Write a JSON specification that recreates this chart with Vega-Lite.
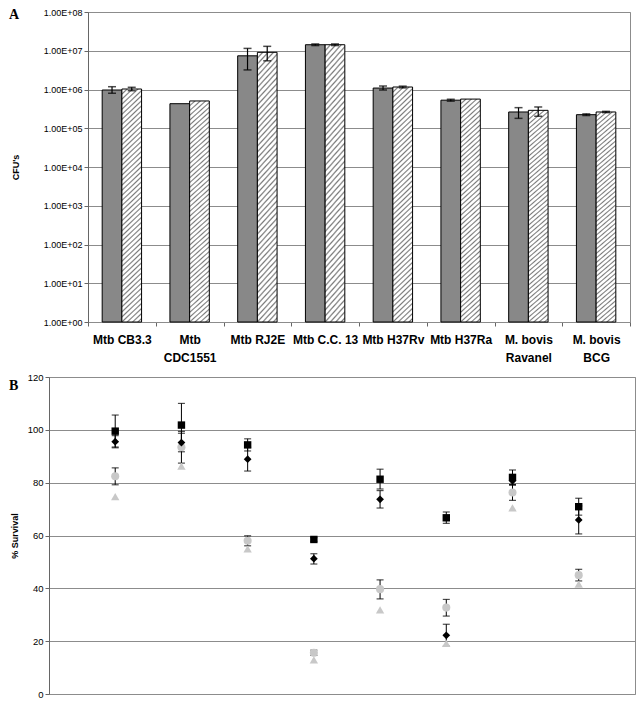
{
  "$schema": "https://vega.github.io/schema/vega-lite/v6.json",
  "background": "white",
  "padding": {"left": 8, "top": 7, "right": 5, "bottom": 2},
  "spacing": 7,
  "config": {
    "font": "Liberation Sans",
    "view": {"stroke": "#8c8c8c", "strokeWidth": 1},
    "axis": {"labelColor": "#000", "titleColor": "#000", "gridColor": "#8c8c8c", "domainColor": "#666", "tickColor": "#666", "labelFont": "Liberation Sans", "titleFont": "Liberation Sans"}
  },
  "vconcat": [
    {
      "bounds": "flush",
      "spacing": 38,
      "hconcat": [
        {"width": 1, "height": 1, "view": {"stroke": null}, "data": {"values": [{"k": 0}]}, "mark": {"type": "point", "opacity": 0}, "encoding": {}},
        {
          "width": 542,
          "height": 310,
          "title": {"text": "A", "anchor": "start", "frame": "group", "font": "Liberation Serif", "fontSize": 14, "fontWeight": "bold", "color": "#000", "dx": -79, "dy": 14, "offset": 0},
          "data": {"values": [
            {"strain": "Mtb CB3.3", "g": "a", "v": 970000, "lo": 800000, "hi": 1180000},
            {"strain": "Mtb CB3.3", "g": "b", "v": 1030000, "lo": 930000, "hi": 1140000},
            {"strain": "Mtb CDC1551", "g": "a", "v": 430000, "lo": null, "hi": null},
            {"strain": "Mtb CDC1551", "g": "b", "v": 506000, "lo": null, "hi": null},
            {"strain": "Mtb RJ2E", "g": "a", "v": 7400000, "lo": 3200000, "hi": 11500000},
            {"strain": "Mtb RJ2E", "g": "b", "v": 9100000, "lo": 5500000, "hi": 13000000},
            {"strain": "Mtb C.C. 13", "g": "a", "v": 14300000, "lo": 13600000, "hi": 15000000},
            {"strain": "Mtb C.C. 13", "g": "b", "v": 14300000, "lo": 13600000, "hi": 15000000},
            {"strain": "Mtb H37Rv", "g": "a", "v": 1090000, "lo": 970000, "hi": 1230000},
            {"strain": "Mtb H37Rv", "g": "b", "v": 1160000, "lo": 1100000, "hi": 1220000},
            {"strain": "Mtb H37Ra", "g": "a", "v": 530000, "lo": 500000, "hi": 560000},
            {"strain": "Mtb H37Ra", "g": "b", "v": 566000, "lo": null, "hi": null},
            {"strain": "M. bovis Ravanel", "g": "a", "v": 263000, "lo": 180000, "hi": 340000},
            {"strain": "M. bovis Ravanel", "g": "b", "v": 290000, "lo": 204000, "hi": 354000},
            {"strain": "M. bovis BCG", "g": "a", "v": 224000, "lo": 213000, "hi": 235000},
            {"strain": "M. bovis BCG", "g": "b", "v": 263000, "lo": 253000, "hi": 273000}
          ]},
          "encoding": {
            "x": {"field": "strain", "type": "nominal", "sort": null, "title": null,
              "scale": {"paddingInner": 0, "paddingOuter": 0},
              "axis": {"labelAngle": 0, "labelFontWeight": "bold", "labelFontSize": 12, "tickBand": "extent", "tickSize": 4, "labelPadding": 8, "labelLineHeight": 18, "labelBaseline": "top", "domainColor": "#8c8c8c",
                "labelExpr": "datum.label == 'Mtb CDC1551' ? ['Mtb', 'CDC1551'] : datum.label == 'M. bovis Ravanel' ? ['M. bovis', 'Ravanel'] : datum.label == 'M. bovis BCG' ? ['M. bovis', 'BCG'] : datum.label"}},
            "xOffset": {"field": "g", "type": "nominal", "scale": {"domain": ["a", "b"], "paddingInner": 0, "paddingOuter": 0.72}},
            "y": {"field": "v", "type": "quantitative", "title": "CFU's",
              "scale": {"type": "log", "domain": [1, 100000000], "nice": false},
              "axis": {"values": [1, 10, 100, 1000, 10000, 100000, 1000000, 10000000, 100000000], "labelExpr": "replace(format(datum.value, '.2e'), 'e+', 'E+0')", "labelFontSize": 9, "tickSize": 4, "labelPadding": 2, "grid": true, "titleFontSize": 9, "titleFontWeight": "bold", "titlePadding": 23}}
          },
          "layer": [
            {
              "transform": [{"filter": "datum.g == 'a'"}],
              "mark": {"type": "bar", "stroke": "#000", "strokeWidth": 1, "fill": "#888888"},
              "encoding": {"y2": {"datum": 1}}
            },
            {
              "transform": [{"filter": "datum.g == 'b'"}],
              "mark": {"type": "bar", "stroke": "#000", "strokeWidth": 1,
                "fill": {"gradient": "linear", "x1": 0, "y1": 0, "x2": 0.0864, "y2": 1.08, "stops": [
                  {"offset": 0, "color": "#7a7a7a"}, {"offset": 0.006, "color": "#ffffff"}, {"offset": 0.014, "color": "#ffffff"},
                  {"offset": 0.02, "color": "#7a7a7a"}, {"offset": 0.026, "color": "#ffffff"}, {"offset": 0.034, "color": "#ffffff"},
                  {"offset": 0.04, "color": "#7a7a7a"}, {"offset": 0.046, "color": "#ffffff"}, {"offset": 0.054, "color": "#ffffff"},
                  {"offset": 0.06, "color": "#7a7a7a"}, {"offset": 0.066, "color": "#ffffff"}, {"offset": 0.074, "color": "#ffffff"},
                  {"offset": 0.08, "color": "#7a7a7a"}, {"offset": 0.086, "color": "#ffffff"}, {"offset": 0.094, "color": "#ffffff"},
                  {"offset": 0.1, "color": "#7a7a7a"}, {"offset": 0.106, "color": "#ffffff"}, {"offset": 0.114, "color": "#ffffff"},
                  {"offset": 0.12, "color": "#7a7a7a"}, {"offset": 0.126, "color": "#ffffff"}, {"offset": 0.134, "color": "#ffffff"},
                  {"offset": 0.14, "color": "#7a7a7a"}, {"offset": 0.146, "color": "#ffffff"}, {"offset": 0.154, "color": "#ffffff"},
                  {"offset": 0.16, "color": "#7a7a7a"}, {"offset": 0.166, "color": "#ffffff"}, {"offset": 0.174, "color": "#ffffff"},
                  {"offset": 0.18, "color": "#7a7a7a"}, {"offset": 0.186, "color": "#ffffff"}, {"offset": 0.194, "color": "#ffffff"},
                  {"offset": 0.2, "color": "#7a7a7a"}, {"offset": 0.206, "color": "#ffffff"}, {"offset": 0.214, "color": "#ffffff"},
                  {"offset": 0.22, "color": "#7a7a7a"}, {"offset": 0.226, "color": "#ffffff"}, {"offset": 0.234, "color": "#ffffff"},
                  {"offset": 0.24, "color": "#7a7a7a"}, {"offset": 0.246, "color": "#ffffff"}, {"offset": 0.254, "color": "#ffffff"},
                  {"offset": 0.26, "color": "#7a7a7a"}, {"offset": 0.266, "color": "#ffffff"}, {"offset": 0.274, "color": "#ffffff"},
                  {"offset": 0.28, "color": "#7a7a7a"}, {"offset": 0.286, "color": "#ffffff"}, {"offset": 0.294, "color": "#ffffff"},
                  {"offset": 0.3, "color": "#7a7a7a"}, {"offset": 0.306, "color": "#ffffff"}, {"offset": 0.314, "color": "#ffffff"},
                  {"offset": 0.32, "color": "#7a7a7a"}, {"offset": 0.326, "color": "#ffffff"}, {"offset": 0.334, "color": "#ffffff"},
                  {"offset": 0.34, "color": "#7a7a7a"}, {"offset": 0.346, "color": "#ffffff"}, {"offset": 0.354, "color": "#ffffff"},
                  {"offset": 0.36, "color": "#7a7a7a"}, {"offset": 0.366, "color": "#ffffff"}, {"offset": 0.374, "color": "#ffffff"},
                  {"offset": 0.38, "color": "#7a7a7a"}, {"offset": 0.386, "color": "#ffffff"}, {"offset": 0.394, "color": "#ffffff"},
                  {"offset": 0.4, "color": "#7a7a7a"}, {"offset": 0.406, "color": "#ffffff"}, {"offset": 0.414, "color": "#ffffff"},
                  {"offset": 0.42, "color": "#7a7a7a"}, {"offset": 0.426, "color": "#ffffff"}, {"offset": 0.434, "color": "#ffffff"},
                  {"offset": 0.44, "color": "#7a7a7a"}, {"offset": 0.446, "color": "#ffffff"}, {"offset": 0.454, "color": "#ffffff"},
                  {"offset": 0.46, "color": "#7a7a7a"}, {"offset": 0.466, "color": "#ffffff"}, {"offset": 0.474, "color": "#ffffff"},
                  {"offset": 0.48, "color": "#7a7a7a"}, {"offset": 0.486, "color": "#ffffff"}, {"offset": 0.494, "color": "#ffffff"},
                  {"offset": 0.5, "color": "#7a7a7a"}, {"offset": 0.506, "color": "#ffffff"}, {"offset": 0.514, "color": "#ffffff"},
                  {"offset": 0.52, "color": "#7a7a7a"}, {"offset": 0.526, "color": "#ffffff"}, {"offset": 0.534, "color": "#ffffff"},
                  {"offset": 0.54, "color": "#7a7a7a"}, {"offset": 0.546, "color": "#ffffff"}, {"offset": 0.554, "color": "#ffffff"},
                  {"offset": 0.56, "color": "#7a7a7a"}, {"offset": 0.566, "color": "#ffffff"}, {"offset": 0.574, "color": "#ffffff"},
                  {"offset": 0.58, "color": "#7a7a7a"}, {"offset": 0.586, "color": "#ffffff"}, {"offset": 0.594, "color": "#ffffff"},
                  {"offset": 0.6, "color": "#7a7a7a"}, {"offset": 0.606, "color": "#ffffff"}, {"offset": 0.614, "color": "#ffffff"},
                  {"offset": 0.62, "color": "#7a7a7a"}, {"offset": 0.626, "color": "#ffffff"}, {"offset": 0.634, "color": "#ffffff"},
                  {"offset": 0.64, "color": "#7a7a7a"}, {"offset": 0.646, "color": "#ffffff"}, {"offset": 0.654, "color": "#ffffff"},
                  {"offset": 0.66, "color": "#7a7a7a"}, {"offset": 0.666, "color": "#ffffff"}, {"offset": 0.674, "color": "#ffffff"},
                  {"offset": 0.68, "color": "#7a7a7a"}, {"offset": 0.686, "color": "#ffffff"}, {"offset": 0.694, "color": "#ffffff"},
                  {"offset": 0.7, "color": "#7a7a7a"}, {"offset": 0.706, "color": "#ffffff"}, {"offset": 0.714, "color": "#ffffff"},
                  {"offset": 0.72, "color": "#7a7a7a"}, {"offset": 0.726, "color": "#ffffff"}, {"offset": 0.734, "color": "#ffffff"},
                  {"offset": 0.74, "color": "#7a7a7a"}, {"offset": 0.746, "color": "#ffffff"}, {"offset": 0.754, "color": "#ffffff"},
                  {"offset": 0.76, "color": "#7a7a7a"}, {"offset": 0.766, "color": "#ffffff"}, {"offset": 0.774, "color": "#ffffff"},
                  {"offset": 0.78, "color": "#7a7a7a"}, {"offset": 0.786, "color": "#ffffff"}, {"offset": 0.794, "color": "#ffffff"},
                  {"offset": 0.8, "color": "#7a7a7a"}, {"offset": 0.806, "color": "#ffffff"}, {"offset": 0.814, "color": "#ffffff"},
                  {"offset": 0.82, "color": "#7a7a7a"}, {"offset": 0.826, "color": "#ffffff"}, {"offset": 0.834, "color": "#ffffff"},
                  {"offset": 0.84, "color": "#7a7a7a"}, {"offset": 0.846, "color": "#ffffff"}, {"offset": 0.854, "color": "#ffffff"},
                  {"offset": 0.86, "color": "#7a7a7a"}, {"offset": 0.866, "color": "#ffffff"}, {"offset": 0.874, "color": "#ffffff"},
                  {"offset": 0.88, "color": "#7a7a7a"}, {"offset": 0.886, "color": "#ffffff"}, {"offset": 0.894, "color": "#ffffff"},
                  {"offset": 0.9, "color": "#7a7a7a"}, {"offset": 0.906, "color": "#ffffff"}, {"offset": 0.914, "color": "#ffffff"},
                  {"offset": 0.92, "color": "#7a7a7a"}, {"offset": 0.926, "color": "#ffffff"}, {"offset": 0.934, "color": "#ffffff"},
                  {"offset": 0.94, "color": "#7a7a7a"}, {"offset": 0.946, "color": "#ffffff"}, {"offset": 0.954, "color": "#ffffff"},
                  {"offset": 0.96, "color": "#7a7a7a"}, {"offset": 0.966, "color": "#ffffff"}, {"offset": 0.974, "color": "#ffffff"},
                  {"offset": 0.98, "color": "#7a7a7a"}, {"offset": 0.986, "color": "#ffffff"}, {"offset": 1, "color": "#ffffff"}
                ]}},
              "encoding": {"y2": {"datum": 1}}
            },
            {
              "transform": [{"filter": "datum.lo != null"}],
              "mark": {"type": "rule", "color": "#000", "strokeWidth": 1.2},
              "encoding": {"y": {"field": "lo", "type": "quantitative", "title": "CFU's"}, "y2": {"field": "hi"}}
            },
            {
              "transform": [{"filter": "datum.lo != null"}],
              "mark": {"type": "tick", "orient": "horizontal", "color": "#000", "size": 8, "thickness": 1.5},
              "encoding": {"y": {"field": "lo", "type": "quantitative", "title": "CFU's"}}
            },
            {
              "transform": [{"filter": "datum.lo != null"}],
              "mark": {"type": "tick", "orient": "horizontal", "color": "#000", "size": 8, "thickness": 1.5},
              "encoding": {"y": {"field": "hi", "type": "quantitative", "title": "CFU's"}}
            }
          ]
        }
      ]
    },
    {
      "width": 586,
      "height": 317,
      "title": {"text": "B", "anchor": "start", "frame": "group", "font": "Liberation Serif", "fontSize": 14, "fontWeight": "bold", "color": "#000", "dx": -40, "dy": 21, "offset": 0},
      "data": {"values": [
        {"pos": 1, "s": "tri", "v": 74.7},
        {"pos": 2, "s": "tri", "v": 86.3},
        {"pos": 3, "s": "tri", "v": 54.9},
        {"pos": 4, "s": "tri", "v": 12.9},
        {"pos": 5, "s": "tri", "v": 31.8},
        {"pos": 6, "s": "tri", "v": 19.2},
        {"pos": 7, "s": "tri", "v": 70.5},
        {"pos": 8, "s": "tri", "v": 41.6},
        {"pos": 1, "s": "circ", "v": 82.4, "lo": 79.2, "hi": 85.6},
        {"pos": 2, "s": "circ", "v": 93.4, "lo": 87.4, "hi": 99.4},
        {"pos": 3, "s": "circ", "v": 58.0, "lo": 56.1, "hi": 59.9},
        {"pos": 4, "s": "circ", "v": 15.6, "lo": 14.6, "hi": 16.6},
        {"pos": 5, "s": "circ", "v": 39.7, "lo": 36.0, "hi": 43.2},
        {"pos": 6, "s": "circ", "v": 32.7, "lo": 29.5, "hi": 35.8},
        {"pos": 7, "s": "circ", "v": 76.3, "lo": 73.3, "hi": 79.3},
        {"pos": 8, "s": "circ", "v": 45.0, "lo": 42.8, "hi": 47.2},
        {"pos": 1, "s": "dia", "v": 95.5, "lo": 93.2, "hi": 97.8},
        {"pos": 2, "s": "dia", "v": 95.2, "lo": 91.7, "hi": 98.7},
        {"pos": 3, "s": "dia", "v": 88.9, "lo": 84.4, "hi": 93.4},
        {"pos": 4, "s": "dia", "v": 51.2, "lo": 49.2, "hi": 53.1},
        {"pos": 5, "s": "dia", "v": 73.7, "lo": 70.4, "hi": 77.0},
        {"pos": 6, "s": "dia", "v": 22.2, "lo": 18.1, "hi": 26.4},
        {"pos": 7, "s": "dia", "v": 80.7, "lo": 79.1, "hi": 82.3},
        {"pos": 8, "s": "dia", "v": 65.9, "lo": 60.6, "hi": 71.2},
        {"pos": 1, "s": "sq", "v": 99.5, "lo": 93.5, "hi": 105.6},
        {"pos": 2, "s": "sq", "v": 101.8, "lo": 93.6, "hi": 110.0},
        {"pos": 3, "s": "sq", "v": 94.3, "lo": 92.0, "hi": 96.6},
        {"pos": 4, "s": "sq", "v": 58.5, "lo": 57.8, "hi": 59.2},
        {"pos": 5, "s": "sq", "v": 81.3, "lo": 77.6, "hi": 85.1},
        {"pos": 6, "s": "sq", "v": 66.7, "lo": 64.6, "hi": 68.9},
        {"pos": 7, "s": "sq", "v": 82.0, "lo": 79.2, "hi": 84.8},
        {"pos": 8, "s": "sq", "v": 70.9, "lo": 67.7, "hi": 74.1}
      ]},
      "encoding": {
        "x": {"field": "pos", "type": "quantitative", "scale": {"domain": [0, 8.85], "nice": false, "zero": false}, "axis": null}
      },
      "layer": [
        {
          "transform": [{"filter": "datum.lo != null"}],
          "mark": {"type": "rule", "color": "#000", "strokeWidth": 1},
          "encoding": {"y": {"field": "lo", "type": "quantitative", "title": "% Survival"}, "y2": {"field": "hi"}}
        },
        {
          "transform": [{"filter": "datum.lo != null"}],
          "mark": {"type": "tick", "orient": "horizontal", "color": "#000", "size": 7, "thickness": 1.2},
          "encoding": {"y": {"field": "lo", "type": "quantitative", "title": "% Survival"}}
        },
        {
          "transform": [{"filter": "datum.lo != null"}],
          "mark": {"type": "tick", "orient": "horizontal", "color": "#000", "size": 7, "thickness": 1.2},
          "encoding": {"y": {"field": "hi", "type": "quantitative", "title": "% Survival"}}
        },
        {
          "mark": {"type": "point", "filled": true, "opacity": 1, "strokeWidth": 0},
          "encoding": {
            "y": {"field": "v", "type": "quantitative", "title": "% Survival",
              "scale": {"domain": [0, 120], "nice": false},
              "axis": {"values": [0, 20, 40, 60, 80, 100, 120], "grid": true, "tickSize": 4, "labelFontSize": 9.5, "labelPadding": 2, "titleFontSize": 9, "titleFontWeight": "bold", "titlePadding": 8}},
            "shape": {"field": "s", "type": "nominal", "scale": {"domain": ["sq", "dia", "circ", "tri"], "range": ["square", "diamond", "circle", "triangle-up"]}, "legend": null},
            "color": {"field": "s", "type": "nominal", "scale": {"domain": ["sq", "dia", "circ", "tri"], "range": ["#000000", "#000000", "#c8c8c8", "#c8c8c8"]}, "legend": null},
            "size": {"field": "s", "type": "ordinal", "scale": {"domain": ["sq", "dia", "circ", "tri"], "range": [55, 70, 40, 40]}, "legend": null}
          }
        }
      ]
    }
  ]
}
